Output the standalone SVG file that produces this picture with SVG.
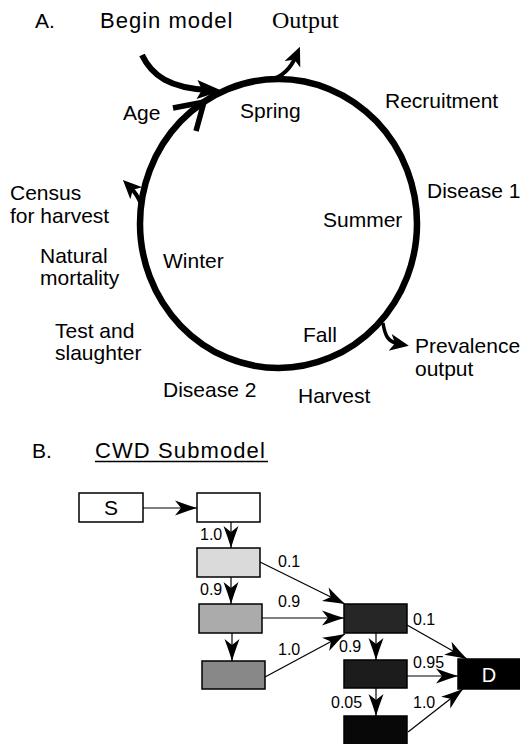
<svg xmlns="http://www.w3.org/2000/svg" width="520" height="744" viewBox="0 0 520 744">
<style>
text{font-family:"Liberation Sans",Arial,sans-serif;fill:#000}
.lab{font-size:21px}
.num{font-size:16px}
.box{stroke:#000;stroke-width:1.5}
.thin{fill:none;stroke:#000;stroke-width:1.2}
.thick{fill:none;stroke:#000}
</style>
<defs>
<marker id="ah" viewBox="-24 -9 26 18" markerWidth="26" markerHeight="18" refX="0" refY="0" orient="auto" markerUnits="userSpaceOnUse">
<path d="M0,0 Q-10,-3 -22,-7.5 L-16,0 L-22,7.5 Q-10,3 0,0 Z" fill="#000"/>
</marker>
<marker id="big" viewBox="-30 -12 32 24" markerWidth="32" markerHeight="24" refX="-14" refY="0" orient="auto" markerUnits="userSpaceOnUse">
<path d="M0,0 L-25,-9.5 L-20,0 L-25,9.5 Z" fill="#000"/>
</marker>
<marker id="mid" viewBox="-24 -11 26 22" markerWidth="26" markerHeight="22" refX="-10" refY="0" orient="auto" markerUnits="userSpaceOnUse">
<path d="M0,0 L-19,-8.5 L-14,0 L-19,8.5 Z" fill="#000"/>
</marker>
</defs>

<g id="panelA">
<text x="35" y="28" class="lab">A.</text>
<g id="begin"><text x="100" y="28" style="font-size:22px;letter-spacing:1px">Begin model</text></g>
<g id="output"><text x="272" y="28" style="font-family:'Liberation Serif','Times New Roman',serif;font-size:24px">Output</text></g>
<g id="cycle"><ellipse cx="278.5" cy="223.5" rx="138.5" ry="144.5" fill="none" stroke="#000" stroke-width="6.5"/></g>
<g id="spring"><text x="240" y="118" class="lab">Spring</text></g>
<g id="summer"><text x="323" y="227" class="lab">Summer</text></g>
<g id="fall"><text x="303" y="342" class="lab">Fall</text></g>
<g id="winter"><text x="163" y="268" class="lab">Winter</text></g>
<g id="age"><text x="123" y="120" class="lab">Age</text></g>
<g id="recruitment"><text x="385" y="108" class="lab">Recruitment</text></g>
<g id="disease1"><text x="427" y="198" class="lab">Disease 1</text></g>
<g id="prevalence"><text x="415" y="353" class="lab">Prevalence</text><text x="415" y="376" class="lab">output</text></g>
<g id="harvest"><text x="298" y="403" class="lab">Harvest</text></g>
<g id="disease2"><text x="163" y="397" class="lab">Disease 2</text></g>
<g id="test"><text x="55" y="338" class="lab">Test and</text><text x="55" y="360" class="lab">slaughter</text></g>
<g id="natural"><text x="40" y="263" class="lab">Natural</text><text x="40" y="285" class="lab">mortality</text></g>
<g id="census"><text x="10" y="200" class="lab">Census</text><text x="10" y="223" class="lab">for harvest</text></g>
</g>

<g id="connectorsA">
<path class="thick" stroke-width="6" d="M142,55 C152,76 170,88 208,90" marker-end="url(#big)"/>
<path class="thick" stroke-width="4" d="M270,80 C282,77 290,70 296,56" marker-end="url(#mid)"/>
<path class="thick" stroke-width="3.5" d="M383,323 C385,336 388,342 399,344" marker-end="url(#mid)"/>
<path class="thick" stroke-width="4" d="M141,204 C138,196 134,191 130,187" marker-end="url(#mid)"/>
<path class="thick" stroke-width="5.5" stroke-linejoin="miter" d="M173,108 L204,102 L196,131"/>
</g>

<g id="panelB">
<text x="32" y="458" class="lab">B.</text>
<g id="title"><text x="95" y="458" style="font-size:22px;letter-spacing:1.1px">CWD Submodel</text>
<line x1="95" y1="461.5" x2="268" y2="461.5" stroke="#000" stroke-width="1.5"/></g>
<g id="S"><rect class="box" x="79" y="493" width="64" height="29" fill="#fff"/><text x="111" y="515" text-anchor="middle" style="font-size:21px">S</text></g>
<g id="E"><rect class="box" x="197" y="493" width="63" height="29" fill="#fff"/></g>
<g id="I1"><rect class="box" x="197" y="548" width="63" height="29" fill="#dadada"/></g>
<g id="I2"><rect class="box" x="199" y="604" width="63" height="29" fill="#ababab"/></g>
<g id="I3"><rect class="box" x="202" y="661" width="63" height="28" fill="#888"/></g>
<g id="C1"><rect class="box" x="344" y="604" width="63" height="29" fill="#262626"/></g>
<g id="C2"><rect class="box" x="344" y="660" width="63" height="28" fill="#1c1c1c"/></g>
<g id="C3"><rect class="box" x="344" y="716" width="63" height="30" fill="#080808"/></g>
<g id="D"><rect class="box" x="458" y="659" width="64" height="30" fill="#000"/><text x="489" y="682" text-anchor="middle" style="font-size:20px;fill:#fff">D</text></g>
</g>

<g id="connectorsB">
<line class="thin" x1="143" y1="508" x2="197" y2="508" marker-end="url(#ah)"/>
<line class="thin" x1="231" y1="522" x2="231" y2="548" marker-end="url(#ah)"/>
<line class="thin" x1="231" y1="577" x2="231" y2="604" marker-end="url(#ah)"/>
<line class="thin" x1="232" y1="633" x2="232" y2="661" marker-end="url(#ah)"/>
<line class="thin" x1="260" y1="562" x2="345" y2="604" marker-end="url(#ah)"/>
<line class="thin" x1="262" y1="618" x2="344" y2="618" marker-end="url(#ah)"/>
<line class="thin" x1="265" y1="677" x2="345" y2="634" marker-end="url(#ah)"/>
<line class="thin" x1="376" y1="633" x2="376" y2="660" marker-end="url(#ah)"/>
<line class="thin" x1="376" y1="688" x2="376" y2="716" marker-end="url(#ah)"/>
<line class="thin" x1="407" y1="625" x2="467" y2="659" marker-end="url(#ah)"/>
<line class="thin" x1="407" y1="676" x2="458" y2="676" marker-end="url(#ah)"/>
<line class="thin" x1="408" y1="732" x2="463" y2="689" marker-end="url(#ah)"/>
<text x="200" y="540" class="num">1.0</text>
<text x="200" y="595" class="num">0.9</text>
<text x="278" y="567" class="num">0.1</text>
<text x="278" y="607" class="num">0.9</text>
<text x="278" y="655" class="num">1.0</text>
<text x="413" y="625" class="num">0.1</text>
<text x="339" y="652" class="num">0.9</text>
<text x="413" y="668" class="num">0.95</text>
<text x="331" y="708" class="num">0.05</text>
<text x="413" y="708" class="num">1.0</text>
</g>
</svg>
